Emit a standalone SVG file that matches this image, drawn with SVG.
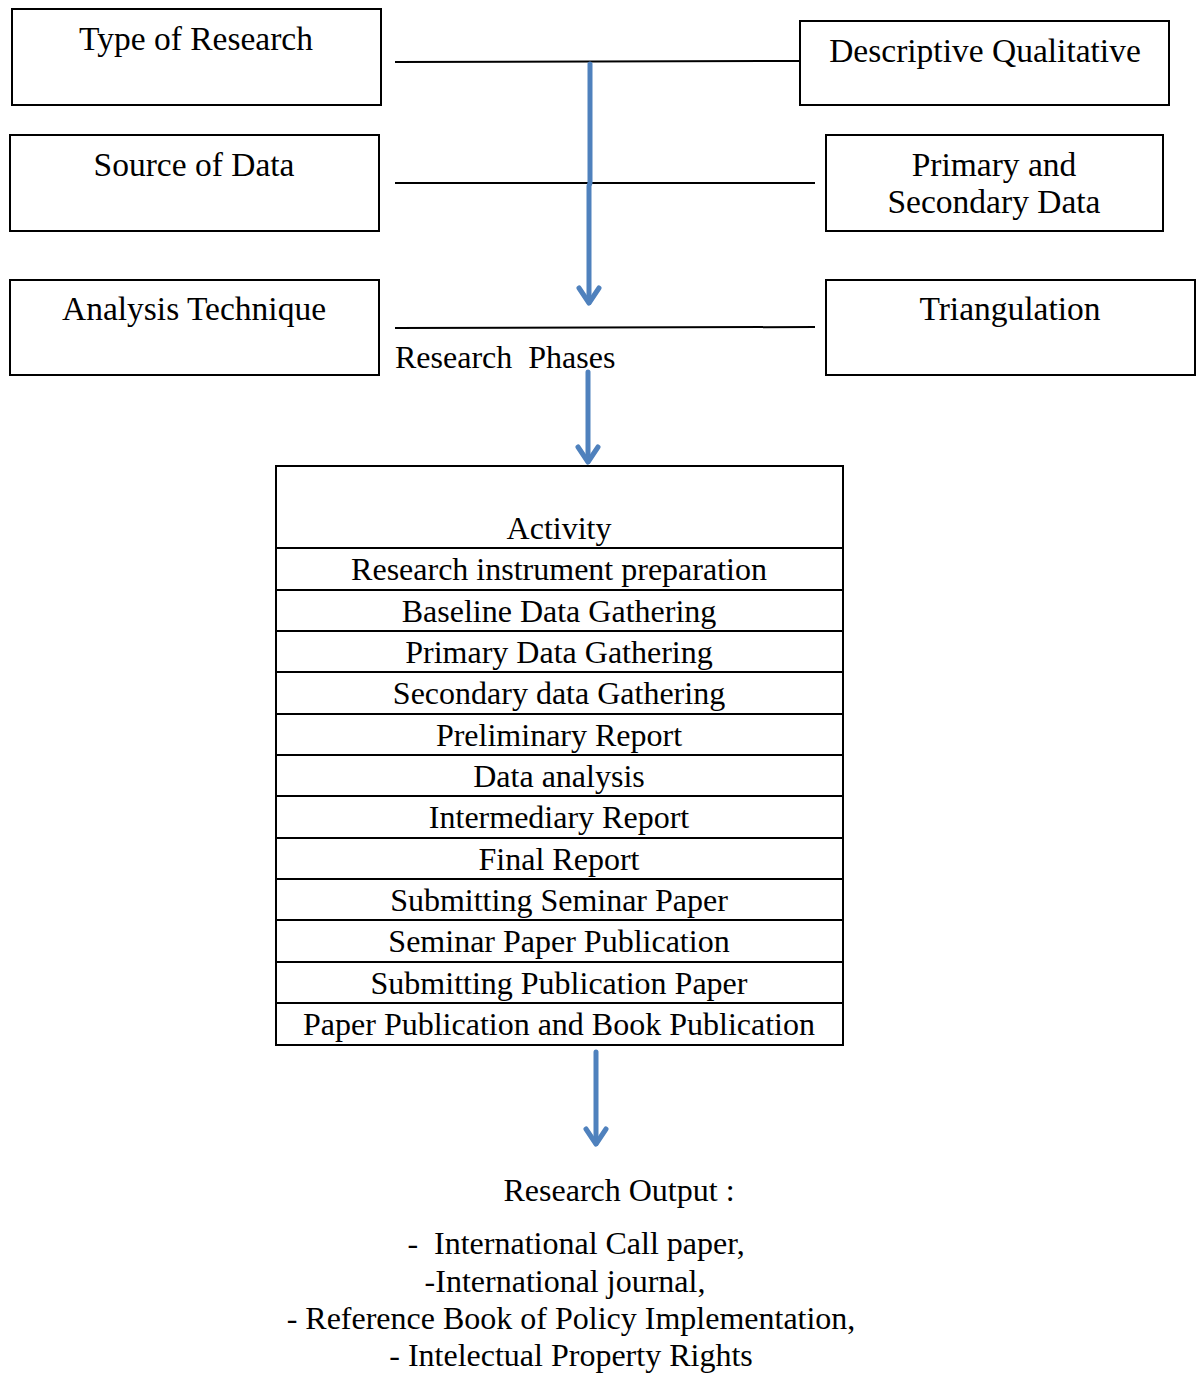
<svg xmlns="http://www.w3.org/2000/svg" width="1196" height="1383" viewBox="0 0 1196 1383">
<style>
.box{fill:#fff;stroke:#000;stroke-width:2}
.bt{font-family:"Liberation Serif","Times New Roman",serif;font-size:33.5px;fill:#000;text-anchor:middle}
.tt{font-family:"Liberation Serif","Times New Roman",serif;font-size:32px;fill:#000;text-anchor:middle}
.ln{stroke:#000;stroke-width:2;fill:none}
.ar{stroke:#4F81BD;stroke-width:5;fill:none;stroke-linecap:round;stroke-linejoin:round}
</style>
<rect width="1196" height="1383" fill="#fff"/>
<g id="type-of-research"><rect class="box" x="12" y="9" width="369" height="96"/><text class="bt" x="196" y="50">Type of Research</text></g>
<g id="descriptive-qualitative"><rect class="box" x="800" y="21" width="369" height="84"/><text class="bt" x="985" y="62">Descriptive Qualitative</text></g>
<g id="source-of-data"><rect class="box" x="10" y="135" width="369" height="96"/><text class="bt" x="194" y="176">Source of Data</text></g>
<g id="primary-secondary"><rect class="box" x="826" y="135" width="337" height="96"/><text class="bt" x="994" y="176">Primary and</text><text class="bt" x="994" y="213">Secondary Data</text></g>
<g id="analysis-technique"><rect class="box" x="10" y="280" width="369" height="95"/><text class="bt" x="194" y="320">Analysis Technique</text></g>
<g id="triangulation"><rect class="box" x="826" y="280" width="369" height="95"/><text class="bt" x="1010" y="320">Triangulation</text></g>
<g id="research-phases-label"><text x="395" y="368" xml:space="preserve" style="font-family:'Liberation Serif','Times New Roman',serif;font-size:32px;fill:#000">Research  Phases</text></g>
<g id="activity-table">
<rect class="box" x="276" y="466" width="567" height="579"/>
<g class="ln">
<line x1="276" y1="548" x2="843" y2="548"/>
<line x1="276" y1="590" x2="843" y2="590"/>
<line x1="276" y1="631" x2="843" y2="631"/>
<line x1="276" y1="672" x2="843" y2="672"/>
<line x1="276" y1="714" x2="843" y2="714"/>
<line x1="276" y1="755" x2="843" y2="755"/>
<line x1="276" y1="796" x2="843" y2="796"/>
<line x1="276" y1="838" x2="843" y2="838"/>
<line x1="276" y1="879" x2="843" y2="879"/>
<line x1="276" y1="920" x2="843" y2="920"/>
<line x1="276" y1="962" x2="843" y2="962"/>
<line x1="276" y1="1003" x2="843" y2="1003"/>
</g>
<text class="tt" x="559" y="539">Activity</text>
<text class="tt" x="559" y="580">Research instrument preparation</text>
<text class="tt" x="559" y="622">Baseline Data Gathering</text>
<text class="tt" x="559" y="663">Primary Data Gathering</text>
<text class="tt" x="559" y="704">Secondary data Gathering</text>
<text class="tt" x="559" y="746">Preliminary Report</text>
<text class="tt" x="559" y="787">Data analysis</text>
<text class="tt" x="559" y="828">Intermediary Report</text>
<text class="tt" x="559" y="870">Final Report</text>
<text class="tt" x="559" y="911">Submitting Seminar Paper</text>
<text class="tt" x="559" y="952">Seminar Paper Publication</text>
<text class="tt" x="559" y="994">Submitting Publication Paper</text>
<text class="tt" x="559" y="1035">Paper Publication and Book Publication</text>
</g>
<g id="research-output">
<text class="tt" x="619" y="1201">Research Output :</text>
<text class="tt" x="576" y="1254" xml:space="preserve">-  International Call paper,</text>
<text class="tt" x="565" y="1292">-International journal,</text>
<text class="tt" x="571" y="1329">- Reference Book of Policy Implementation,</text>
<text class="tt" x="571" y="1366">- Intelectual Property Rights</text>
</g>
<g id="connectors">
<line class="ln" x1="395" y1="62" x2="800" y2="61"/>
<line class="ln" x1="395" y1="183" x2="815" y2="183"/>
<line class="ln" x1="395" y1="328" x2="815" y2="327"/>
<g class="ar">
<path d="M590 64 V183 L589 186 V302"/>
<path d="M579 288 L589 303 L599 288"/>
<path d="M588 372 V461"/>
<path d="M578 447 L588 462 L598 447"/>
<path d="M596 1052 V1143"/>
<path d="M586 1129 L596 1144 L606 1129"/>
</g>
</g>
</svg>
